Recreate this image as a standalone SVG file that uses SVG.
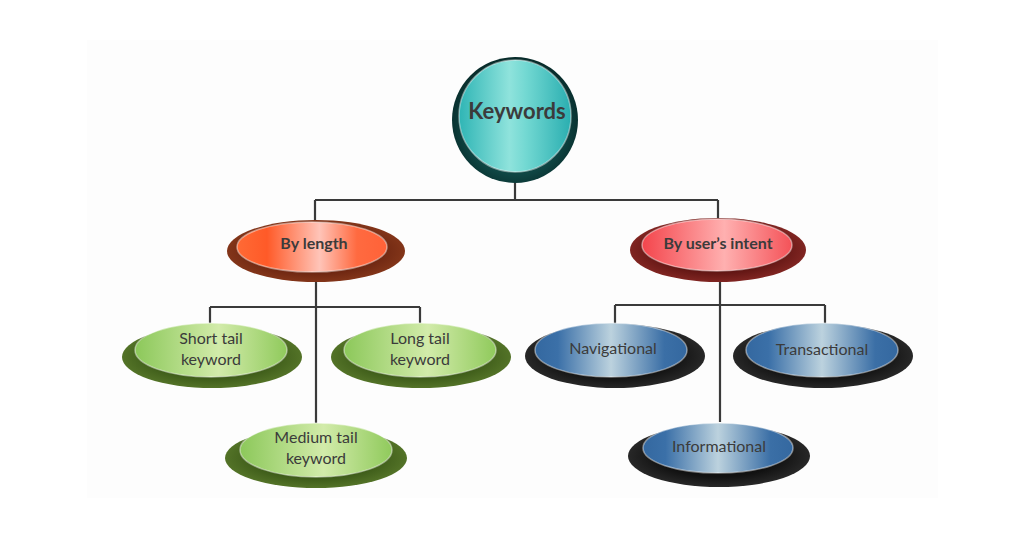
<svg xmlns="http://www.w3.org/2000/svg" width="1024" height="538" viewBox="0 0 1024 538">
<defs>
<style>
.t{font-family:Lato,"Open Sans","Liberation Sans",sans-serif;fill:#3b3b3b;text-anchor:middle;font-size:16px}
.b{font-weight:bold}
.c{fill:none;stroke:#3a3a3a;stroke-width:2.2}
.rim{fill:none;stroke:#ffffff;stroke-opacity:0.45;stroke-width:1.5}
</style>
<linearGradient id="gTeal" x1="0" x2="1" y1="0" y2="0">
<stop offset="0" stop-color="#2fb5b5"/><stop offset="0.45" stop-color="#8fe3dc"/><stop offset="0.6" stop-color="#72d8d2"/><stop offset="1" stop-color="#2aaeb0"/></linearGradient>
<radialGradient id="oTeal" cx="0.5" cy="0.55" r="0.55"><stop offset="0.7" stop-color="#0f4644"/><stop offset="1" stop-color="#072a29"/></radialGradient>
<linearGradient id="gOr" x1="0" x2="1"><stop offset="0" stop-color="#ff6a35"/><stop offset="0.2" stop-color="#ff5a28"/><stop offset="0.55" stop-color="#ffc4b8"/><stop offset="0.8" stop-color="#ff6a40"/><stop offset="1" stop-color="#ff6238"/></linearGradient>
<radialGradient id="oBr" cx="0.5" cy="0.5" r="0.55"><stop offset="0.6" stop-color="#6a2410"/><stop offset="1" stop-color="#8a3a1c"/></radialGradient>
<linearGradient id="gPk" x1="0" x2="1"><stop offset="0" stop-color="#f4454c"/><stop offset="0.55" stop-color="#ffb0b0"/><stop offset="1" stop-color="#f45258"/></linearGradient>
<radialGradient id="oRd" cx="0.5" cy="0.5" r="0.55"><stop offset="0.6" stop-color="#5e1412"/><stop offset="1" stop-color="#8a2a26"/></radialGradient>
<linearGradient id="gGr" x1="0" x2="1"><stop offset="0" stop-color="#8cc85a"/><stop offset="0.55" stop-color="#d2ebaa"/><stop offset="1" stop-color="#90ca5c"/></linearGradient>
<radialGradient id="oGr" cx="0.5" cy="0.5" r="0.55"><stop offset="0.6" stop-color="#3c5a18"/><stop offset="1" stop-color="#5a7a2c"/></radialGradient>
<linearGradient id="gBl" x1="0" x2="1"><stop offset="0" stop-color="#3468a0"/><stop offset="0.15" stop-color="#3b70a8"/><stop offset="0.5" stop-color="#bcd2de"/><stop offset="0.85" stop-color="#3b6fa6"/><stop offset="1" stop-color="#3468a0"/></linearGradient>
<radialGradient id="oBk" cx="0.5" cy="0.5" r="0.55"><stop offset="0.6" stop-color="#111111"/><stop offset="1" stop-color="#2e2e2e"/></radialGradient>
</defs>
<rect x="0" y="0" width="1024" height="538" fill="#ffffff"/>
<rect x="87" y="40" width="851" height="458" fill="#fdfdfd"/>
<g id="connectors">
<path class="c" d="M515 180 V200 M315 200 H718 M315 200 V224 M718 200 V220"/>
<path class="c" d="M316 280 V425 M210 307 H420 M210 307 V325 M420 307 V325"/>
<path class="c" d="M720 280 V422 M615 305 H825 M615 305 V325 M825 305 V325"/>
</g>
<g id="keywords">
<circle cx="515" cy="120" r="63" fill="url(#oTeal)"/>
<circle cx="515" cy="116" r="56" fill="url(#gTeal)"/>
<circle cx="515" cy="116" r="56" class="rim"/>
<text class="t b" x="517" y="119" style="font-size:22px">Keywords</text>
</g>
<g id="by-length">
<ellipse cx="316" cy="251" rx="89" ry="31" fill="url(#oBr)"/>
<ellipse cx="312" cy="247" rx="75" ry="25" fill="url(#gOr)"/>
<ellipse cx="312" cy="247" rx="75" ry="25" class="rim"/>
<text class="t b" x="314" y="249">By length</text>
</g>
<g id="by-intent">
<ellipse cx="718" cy="250" rx="88" ry="32" fill="url(#oRd)"/>
<ellipse cx="717" cy="245" rx="75" ry="26" fill="url(#gPk)"/>
<ellipse cx="717" cy="245" rx="75" ry="26" class="rim"/>
<text class="t b" x="718" y="249">By user’s intent</text>
</g>
<g id="short-tail">
<ellipse cx="212" cy="357" rx="90" ry="31" fill="url(#oGr)"/>
<ellipse cx="211" cy="350" rx="76" ry="27" fill="url(#gGr)"/>
<ellipse cx="211" cy="350" rx="76" ry="27" class="rim"/>
<text class="t" x="211" y="344">Short tail</text>
<text class="t" x="211" y="365">keyword</text>
</g>
<g id="long-tail">
<ellipse cx="421" cy="357" rx="90" ry="31" fill="url(#oGr)"/>
<ellipse cx="420" cy="350" rx="76" ry="27" fill="url(#gGr)"/>
<ellipse cx="420" cy="350" rx="76" ry="27" class="rim"/>
<text class="t" x="420" y="344">Long tail</text>
<text class="t" x="420" y="365">keyword</text>
</g>
<g id="medium-tail">
<ellipse cx="316" cy="458" rx="91" ry="30" fill="url(#oGr)"/>
<ellipse cx="316" cy="450" rx="76" ry="27" fill="url(#gGr)"/>
<ellipse cx="316" cy="450" rx="76" ry="27" class="rim"/>
<text class="t" x="316" y="443">Medium tail</text>
<text class="t" x="316" y="464">keyword</text>
</g>
<g id="navigational">
<ellipse cx="615" cy="356" rx="90" ry="32" fill="url(#oBk)"/>
<ellipse cx="611" cy="350" rx="76" ry="27" fill="url(#gBl)"/>
<ellipse cx="611" cy="350" rx="76" ry="27" class="rim"/>
<text class="t" x="613" y="354">Navigational</text>
</g>
<g id="transactional">
<ellipse cx="823" cy="356" rx="90" ry="32" fill="url(#oBk)"/>
<ellipse cx="822" cy="350" rx="76" ry="27" fill="url(#gBl)"/>
<ellipse cx="822" cy="350" rx="76" ry="27" class="rim"/>
<text class="t" x="822" y="355">Transactional</text>
</g>
<g id="informational">
<ellipse cx="719" cy="456" rx="91" ry="31" fill="url(#oBk)"/>
<ellipse cx="718" cy="448" rx="75" ry="25" fill="url(#gBl)"/>
<ellipse cx="718" cy="448" rx="75" ry="25" class="rim"/>
<text class="t" x="719" y="452">Informational</text>
</g>
</svg>
